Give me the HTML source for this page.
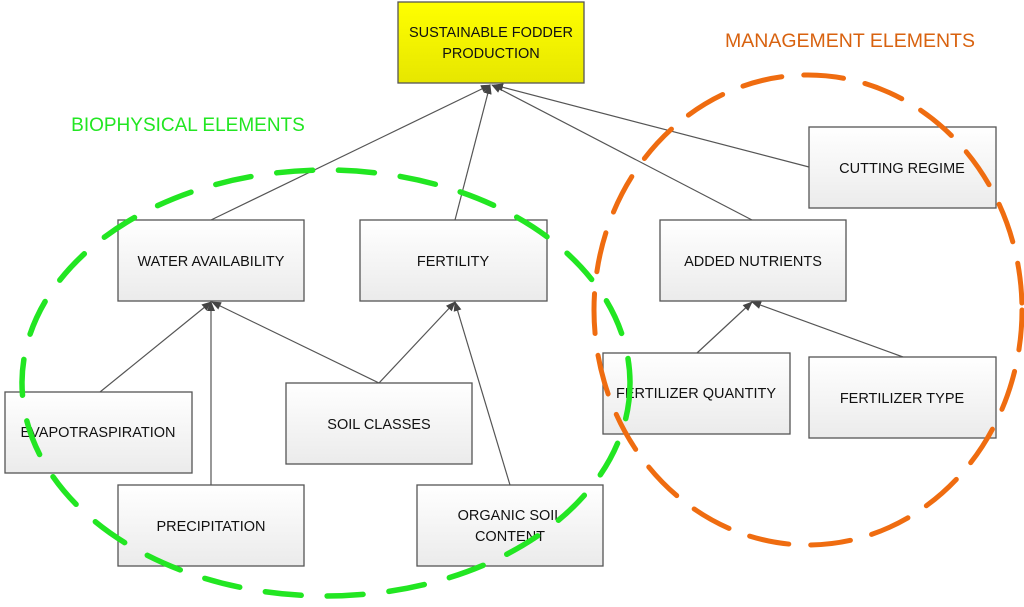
<!DOCTYPE html>
<html><head><style>body{margin:0;background:#fff}</style></head><body>
<svg width="1024" height="602" xmlns="http://www.w3.org/2000/svg" font-family="Liberation Sans, sans-serif">
<defs>
<linearGradient id="g" x1="0" y1="0" x2="0" y2="1"><stop offset="0" stop-color="#ffffff"/><stop offset="1" stop-color="#ebebeb"/></linearGradient>
<linearGradient id="y" x1="0" y1="0" x2="0" y2="1"><stop offset="0" stop-color="#ffff00"/><stop offset="1" stop-color="#e6e600"/></linearGradient>
<marker id="a" markerWidth="10" markerHeight="8" refX="9" refY="4" orient="auto" markerUnits="userSpaceOnUse"><path d="M0,0 L10,4 L0,8 Z" fill="#444"/></marker>
</defs>
<g stroke="#555" stroke-width="1.2" fill="none" marker-end="url(#a)">
<line x1="211" y1="220" x2="490" y2="85"/>
<line x1="455" y1="220" x2="490" y2="85"/>
<line x1="752" y1="220" x2="492" y2="85"/>
<line x1="809" y1="167" x2="494" y2="85"/>
<line x1="100" y1="392" x2="211" y2="302"/>
<line x1="211" y1="485" x2="211" y2="302"/>
<line x1="379" y1="383" x2="212" y2="302"/>
<line x1="379" y1="383" x2="455" y2="302"/>
<line x1="510" y1="485" x2="455" y2="302"/>
<line x1="697" y1="353" x2="752" y2="302"/>
<line x1="903" y1="357" x2="752" y2="302"/>
</g>
<g stroke="#555" stroke-width="1.3" fill="url(#g)">
<rect x="118" y="220" width="186" height="81"/>
<rect x="360" y="220" width="187" height="81"/>
<rect x="660" y="220" width="186" height="81"/>
<rect x="809" y="127" width="187" height="81"/>
<rect x="5" y="392" width="187" height="81"/>
<rect x="286" y="383" width="186" height="81"/>
<rect x="118" y="485" width="186" height="81"/>
<rect x="417" y="485" width="186" height="81"/>
<rect x="603" y="353" width="187" height="81"/>
<rect x="809" y="357" width="187" height="81"/>
<rect x="398" y="2" width="186" height="81" fill="url(#y)"/>
</g>
<g font-size="14.5" fill="#111" text-anchor="middle">
<text x="491" y="37">SUSTAINABLE FODDER</text>
<text x="491" y="58">PRODUCTION</text>
<text x="211" y="266">WATER AVAILABILITY</text>
<text x="453" y="266">FERTILITY</text>
<text x="753" y="266">ADDED NUTRIENTS</text>
<text x="902" y="173">CUTTING REGIME</text>
<text x="98" y="437">EVAPOTRASPIRATION</text>
<text x="379" y="429">SOIL CLASSES</text>
<text x="211" y="531">PRECIPITATION</text>
<text x="510" y="520">ORGANIC SOIL</text>
<text x="510" y="541">CONTENT</text>
<text x="696" y="398">FERTILIZER QUANTITY</text>
<text x="902" y="403">FERTILIZER TYPE</text>
</g>
<ellipse cx="326" cy="383" rx="304" ry="213" fill="none" stroke="#22e622" stroke-width="5.5" stroke-dasharray="36 26" stroke-linecap="round"/>
<ellipse cx="808" cy="310" rx="214" ry="235" fill="none" stroke="#ef6c10" stroke-width="5" stroke-dasharray="40 22" stroke-linecap="round"/>
<text x="188" y="131" font-size="19" fill="#22e622" text-anchor="middle">BIOPHYSICAL ELEMENTS</text>
<text x="850" y="47" font-size="19.5" fill="#d8620f" text-anchor="middle">MANAGEMENT ELEMENTS</text>
</svg>
</body></html>
